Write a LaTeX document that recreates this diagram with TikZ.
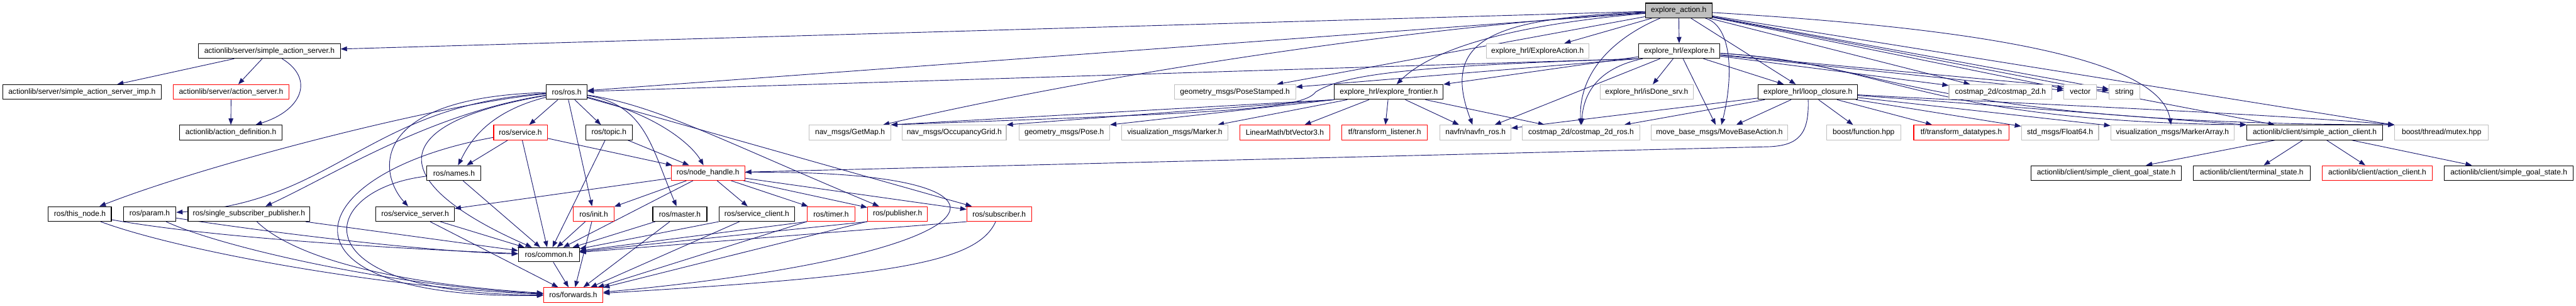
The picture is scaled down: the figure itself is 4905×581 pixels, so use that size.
\documentclass[tikz,border=0pt]{standalone}
\usepackage{fontspec}
\newfontfamily\lsans{Liberation Sans}
\usetikzlibrary{arrows.meta}
\definecolor{edgec}{HTML}{191970}
\definecolor{gborder}{HTML}{BFBFBF}
\definecolor{rootfill}{HTML}{BFBFBF}
\pgfdeclarelayer{bg}
\pgfsetlayers{bg,main}
\begin{document}
\begin{tikzpicture}[x=1pt,y=1pt,
 nb/.style={draw=black, fill=white, line width=1.3pt, inner sep=0pt, minimum height=28pt, font=\lsans\fontsize{14.4}{16}\selectfont, text=black},
 ng/.style={nb, draw=gborder},
 nr/.style={nb, draw=red},
 e/.style={draw=edgec, line width=1.1pt, -{Triangle[length=12pt,width=9pt]}}]
\useasboundingbox (0,0) rectangle (4905,-581);
% row 0
\node[nb, fill=rootfill, minimum width=127pt] (root) at (3196.5,-20) {explore\_action.h};
% row 1
\node[nb, minimum width=270pt] (sas) at (513,-97) {actionlib/server/simple\_action\_server.h};
\node[ng, minimum width=195pt] (expact) at (2927.5,-97) {explore\_hrl/ExploreAction.h};
\node[nb, minimum width=155pt] (explore) at (3197.5,-97) {explore\_hrl/explore.h};
% row 2
\node[nb, minimum width=302pt] (imp) at (156,-175) {actionlib/server/simple\_action\_server\_imp.h};
\node[nr, minimum width=220pt] (as) at (440,-175) {actionlib/server/action\_server.h};
\node[nb, minimum width=78pt] (ros) at (1079,-175) {ros/ros.h};
\node[ng, minimum width=231pt] (posest) at (2351.5,-175) {geometry\_msgs/PoseStamped.h};
\node[nb, minimum width=207pt] (frontier) at (2644.5,-175) {explore\_hrl/explore\_frontier.h};
\node[ng, minimum width=177pt] (isdone) at (3135.5,-175) {explore\_hrl/isDone\_srv.h};
\node[nb, minimum width=189pt] (loop) at (3442.5,-175) {explore\_hrl/loop\_closure.h};
\node[ng, minimum width=196pt] (cm2d) at (3809,-175) {costmap\_2d/costmap\_2d.h};
\node[ng, minimum width=62pt] (vector) at (3961,-175) {vector};
\node[ng, minimum width=58pt] (string) at (4045,-175) {string};
% row 3
\node[nb, minimum width=195pt] (ad) at (439.5,-252) {actionlib/action\_definition.h};
\node[nr, minimum width=102pt] (service) at (991,-252) {ros/service.h};
\node[nb, minimum width=89pt] (topic) at (1159.5,-252) {ros/topic.h};
\node[ng, minimum width=155pt] (getmap) at (1618.5,-252) {nav\_msgs/GetMap.h};
\node[ng, minimum width=198pt] (occ) at (1817,-252) {nav\_msgs/OccupancyGrid.h};
\node[ng, minimum width=173pt] (pose) at (2026.5,-252) {geometry\_msgs/Pose.h};
\node[ng, minimum width=202pt] (marker) at (2237,-252) {visualization\_msgs/Marker.h};
\node[nr, minimum width=171pt] (btv) at (2446.5,-252) {LinearMath/btVector3.h};
\node[nr, minimum width=163pt] (tfl) at (2636.5,-252) {tf/transform\_listener.h};
\node[ng, minimum width=135pt] (navfn) at (2809.5,-252) {navfn/navfn\_ros.h};
\node[ng, minimum width=223pt] (cmros) at (3010.5,-252) {costmap\_2d/costmap\_2d\_ros.h};
\node[ng, minimum width=260pt] (mba) at (3274,-252) {move\_base\_msgs/MoveBaseAction.h};
\node[ng, minimum width=141pt] (bfunc) at (3548.5,-252) {boost/function.hpp};
\node[nr, minimum width=181pt] (tfd) at (3734.5,-252) {tf/transform\_datatypes.h};
\node[ng, minimum width=147pt] (f64) at (3922.5,-252) {std\_msgs/Float64.h};
\node[ng, minimum width=235pt] (marr) at (4136.5,-252) {visualization\_msgs/MarkerArray.h};
\node[nb, minimum width=259pt] (sac) at (4407.5,-252) {actionlib/client/simple\_action\_client.h};
\node[ng, minimum width=178pt] (mutex) at (4649,-252) {boost/thread/mutex.hpp};
% row 4
\node[nb, minimum width=103pt] (names) at (864.5,-329) {ros/names.h};
\node[nr, minimum width=140pt] (nh) at (1348,-329) {ros/node\_handle.h};
\node[nb, minimum width=287pt] (scgs) at (4010.5,-329) {actionlib/client/simple\_client\_goal\_state.h};
\node[nb, minimum width=223pt] (term) at (4287.5,-329) {actionlib/client/terminal\_state.h};
\node[nr, minimum width=209pt] (acl) at (4526.5,-329) {actionlib/client/action\_client.h};
\node[nb, minimum width=246pt] (sgs) at (4777,-329) {actionlib/client/simple\_goal\_state.h};
% row 5
\node[nb, minimum width=120pt] (thisnode) at (152,-407) {ros/this\_node.h};
\node[nb, minimum width=100pt] (param) at (285,-407) {ros/param.h};
\node[nb, minimum width=232pt] (ssp) at (474,-407) {ros/single\_subscriber\_publisher.h};
\node[nb, minimum width=149pt] (sserver) at (790.5,-407) {ros/service\_server.h};
\node[nr, minimum width=77pt] (init) at (1130.5,-407) {ros/init.h};
\node[nb, minimum width=103pt] (master) at (1294.5,-407) {ros/master.h};
\node[nb, minimum width=144pt] (sclient) at (1441,-407) {ros/service\_client.h};
\node[nr, minimum width=91pt] (timer) at (1582.5,-407) {ros/timer.h};
\node[nr, minimum width=114pt] (pub) at (1709,-407) {ros/publisher.h};
\node[nr, minimum width=123pt] (sub) at (1902.5,-407) {ros/subscriber.h};
% row 6,7
\node[nb, minimum width=116pt, minimum height=27pt] (common) at (1045,-484.5) {ros/common.h};
\node[nr, minimum width=113pt] (fwd) at (1091.5,-561) {ros/forwards.h};

\begin{pgfonlayer}{bg}
% root
\draw[e] (root) -- (sas);
\draw[e] (root) -- (ros);
\draw[e] (root) .. controls (2700,-50) and (2100,-140) .. (getmap);
\draw[e] (root) -- (posest);
\draw[e] (root) -- (expact);
\draw[e] (root) -- (explore);
\draw[e] (root) .. controls (2850,-50) and (2720,-100) .. (frontier);
\draw[e] (root) .. controls (2850,-35) and (2740,-70) .. (navfn);
\draw[e] (root) .. controls (3100,-60) and (3005,-120) .. (cmros);
\draw[e] (root) -- (loop);
\draw[e] (root) .. controls (3300,-50) and (3300,-150) .. (mba);
\draw[e] (root) -- (cm2d);
\draw[e] (root) -- (vector);
\draw[e] (root) -- (string);
\draw[e] (root) .. controls (3700,-50) and (4110,-100) .. (marr);
\draw[e] (root) -- (sac);
\draw[e] (root) -- (mutex);
% explore
\draw[e] (explore.south west) -- (ros);
\draw[e] (explore.south west) -- (posest);
\draw[e] (explore.south west) .. controls (2700,-125) and (2560,-140) .. (2505,-175) .. controls (2480,-210) and (2300,-215) .. (getmap.north east);
\draw[e] (explore) -- (frontier);
\draw[e] (explore) -- (isdone);
\draw[e] (explore) -- (navfn);
\draw[e] (explore) .. controls (3040,-130) and (3015,-180) .. (cmros);
\draw[e] (explore) -- (mba);
\draw[e] (explore) -- (loop);
\draw[e] (explore) -- (cm2d);
\draw[e] (explore) -- (vector);
\draw[e] (explore) -- (string);
\draw[e] (explore) .. controls (3600,-120) and (3650,-230) .. (sac.north west);
\draw[e] (explore) .. controls (3600,-120) and (3650,-235) .. (mutex.north west);
% loop closure
\draw[e] (loop) -- (navfn);
\draw[e] (loop) -- (cmros);
\draw[e] (loop) -- (mba);
\draw[e] (loop) .. controls (3445,-255) and (3425,-276) .. (3370,-279) -- (nh);
\draw[e] (loop) -- (bfunc);
\draw[e] (loop) -- (tfd);
\draw[e] (loop) -- (f64);
\draw[e] (loop) -- (marr);
\draw[e] (loop) .. controls (3800,-200) and (4100,-225) .. (sac.north west);
\draw[e] (loop) .. controls (3800,-195) and (4300,-215) .. (mutex.north west);
% frontier
\draw[e] (frontier.south west) -- (getmap.north east);
\draw[e] (frontier.south west) -- (occ.north east);
\draw[e] (frontier.south west) -- (pose.north east);
\draw[e] ([xshift=25pt]frontier.south west) -- ([xshift=-20pt]marker.north east);
\draw[e] (frontier) -- (btv);
\draw[e] (frontier) -- (tfl);
\draw[e] (frontier) -- (navfn);
\draw[e] (frontier) -- (cmros);
% action server
\draw[e] (sas) -- (imp);
\draw[e] (sas) -- (as);
\draw[e] (sas) .. controls (600,-150) and (575,-210) .. (ad);
\draw[e] (as) -- (ad);
% action client
\draw[e] (sac) -- (scgs);
\draw[e] (sac) -- (term);
\draw[e] (sac) -- (acl);
\draw[e] (sac) -- (sgs);
% ros.h
\draw[e] (ros) .. controls (850,-195) and (400,-310) .. (thisnode);
\draw[e] (ros) .. controls (700,-200) and (640,-385) .. (param);
\draw[e] (ros) .. controls (820,-215) and (640,-330) .. (ssp);
\draw[e] (ros) .. controls (700,-185) and (720,-330) .. (sserver);
\draw[e] (ros) .. controls (700,-240) and (760,-360) .. (common);
\draw[e] (ros) .. controls (920,-215) and (890,-280) .. (names);
\draw[e] (ros) -- (service);
\draw[e] (ros) -- (init);
\draw[e] (ros) -- (topic);
\draw[e] (ros) .. controls (1230,-200) and (1240,-280) .. (master);
\draw[e] (ros) .. controls (1260,-220) and (1320,-280) .. (nh);
\draw[e] (ros) .. controls (1250,-200) and (1380,-270) .. (pub);
\draw[e] (ros) -- (sub);
% service, topic, names
\draw[e] (service) -- (names);
\draw[e] (service) -- (common);
\draw[e] (service) .. controls (560,-330) and (500,-570) .. (fwd);
\draw[e] (service) -- (nh);
\draw[e] (topic) -- (common);
\draw[e] (topic) -- (nh);
\draw[e] (names) -- (common);
\draw[e] (names) .. controls (600,-360) and (560,-560) .. (fwd);
% left leaves
\draw[e] (sserver) -- (common);
\draw[e] (sserver) -- (fwd);
\draw[e] (thisnode) .. controls (420,-455) and (800,-475) .. (common);
\draw[e] (thisnode) .. controls (350,-480) and (750,-550) .. (fwd);
\draw[e] (param) .. controls (500,-440) and (800,-478) .. (common);
\draw[e] (param) .. controls (420,-470) and (750,-545) .. (fwd);
\draw[e] (ssp) -- (common);
\draw[e] (ssp) .. controls (560,-490) and (750,-540) .. (fwd);
% node handle
\draw[e] (nh) -- (sserver);
\draw[e] (nh) -- (init);
\draw[e] (nh) -- (common);
\draw[e] (nh) -- (sclient);
\draw[e] (nh) -- (timer);
\draw[e] (nh) -- (pub);
\draw[e] (nh) -- (sub);
\draw[e] (nh) .. controls (1990,-320) and (1960,-480) .. (fwd);
% bottom rows
\draw[e] (init) -- (common);
\draw[e] (init) -- (fwd);
\draw[e] (master) -- (common);
\draw[e] (master) -- (fwd);
\draw[e] (sclient.south west) -- (common);
\draw[e] (sclient) -- (fwd);
\draw[e] (timer.south west) -- (common);
\draw[e] (timer) -- (fwd);
\draw[e] (pub.south west) -- (common);
\draw[e] (pub) -- (fwd);
\draw[e] (sub.south west) -- (common);
\draw[e] (sub) .. controls (1860,-500) and (1700,-525) .. (fwd);
\draw[e] (common) -- (fwd);
\end{pgfonlayer}
\end{tikzpicture}
\end{document}
